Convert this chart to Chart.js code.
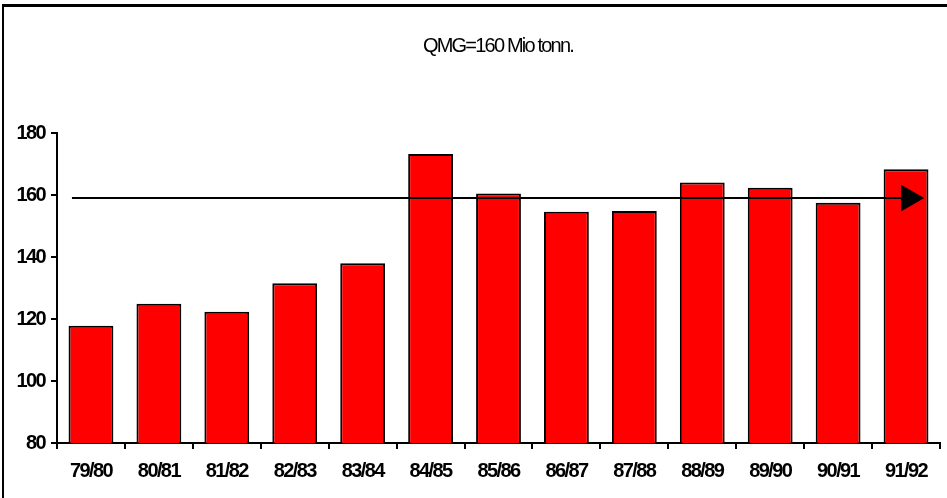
<!DOCTYPE html>
<html>
<head>
<meta charset="utf-8">
<script src="https://cdn.jsdelivr.net/npm/chart.js@4/dist/chart.umd.min.js"></script>
<style>
    html, body { margin: 0; padding: 0; background: #fff; }
    #wrap { width: 947px; height: 498px; position: relative; }
</style>
</head>
<body>
<div id="wrap"><canvas id="qmgChart" width="947" height="498"></canvas></div>
<script>
// Werte (Mio t)
const seasons = ["79/80", "80/81", "81/82", "82/83", "83/84", "84/85", "85/86",
    "86/87", "87/88", "88/89", "89/90", "90/91", "91/92"];
const production = [117.8, 124.9, 122.3, 131.5, 138.0, 173.2, 160.5,
    154.6, 154.8, 164.0, 162.3, 157.5, 168.3];

// QMG-Linie mit Pfeil (x in Kategorie-Einheiten)
const qmgX = [0.22, 12.54];
const qmgY = [159, 159];

const yTicks = { min: 80, max: 180, step: 20 };

const titleText = "QMG=160 Mio tonn.";
const fontFamily = "Arial, 'Liberation Sans', sans-serif";

// schmale Schrift nachahmen: negativer Zeichenabstand
const narrowPlugin = {
    id: "narrow",
    beforeLayout(chart) { chart.ctx.letterSpacing = "-1.6px"; },
    beforeDraw(chart) { chart.ctx.letterSpacing = "-1.6px"; }
};

// Rahmen links/oben und Titel
const framePlugin = {
    id: "frame",
    afterDraw(chart) {
        const ctx = chart.ctx;
        ctx.save();
        ctx.strokeStyle = "#000";
        ctx.lineWidth = 2;
        ctx.beginPath();
        ctx.moveTo(3, 5);
        ctx.lineTo(3, 498);
        ctx.stroke();
        ctx.lineWidth = 3;
        ctx.beginPath();
        ctx.moveTo(2, 5.5);
        ctx.lineTo(947, 5.5);
        ctx.stroke();

        ctx.letterSpacing = "-1.8px";
        ctx.fillStyle = "#000";
        ctx.font = "20px " + fontFamily;
        ctx.textAlign = "center";
        ctx.textBaseline = "middle";
        ctx.fillText(titleText, 498, 46);
        ctx.restore();
    }
};

const ctx = document.getElementById("qmgChart").getContext("2d");

new Chart(ctx, {
    type: "bar",
    data: {
        labels: seasons,
        datasets: [{
            type: "line",
            xAxisID: "x2",
            data: qmgX.map((x, i) => ({ x: x, y: qmgY[i] })),
            borderColor: "#000",
            borderWidth: 2,
            backgroundColor: "#000",
            pointStyle: "triangle",
            rotation: 90,
            pointRadius: [0, 15.5],
            pointBorderWidth: 0,
            order: 0
        }, {
            type: "bar",
            xAxisID: "x",
            data: production,
            backgroundColor: "#ff0000",
            borderColor: "#000",
            borderWidth: 2,
            grouped: false,
            categoryPercentage: 1,
            barPercentage: 0.66,
            order: 1
        }]
    },
    options: {
        responsive: false,
        animation: false,
        layout: {
            autoPadding: false,
            padding: { left: 0, right: 7, top: 133, bottom: 0 }
        },
        scales: {
            x: {
                type: "category",
                offset: true,
                border: { color: "#000", width: 2 },
                grid: {
                    display: true,
                    drawOnChartArea: false,
                    color: "#000",
                    lineWidth: 2,
                    tickLength: 6
                },
                ticks: {
                    color: "#000",
                    padding: 10,
                    maxRotation: 0,
                    font: { family: fontFamily, size: 20, weight: "bold" }
                },
                afterFit(scale) {
                    scale.height = 55;
                    scale.paddingLeft = 0;
                    scale.paddingRight = 0;
                }
            },
            x2: {
                type: "linear",
                position: "bottom",
                offset: false,
                grid: { offset: false },
                min: 0,
                max: seasons.length,
                display: false
            },
            y: {
                min: yTicks.min,
                max: yTicks.max,
                border: { color: "#000", width: 2 },
                grid: {
                    display: true,
                    drawOnChartArea: false,
                    color: "#000",
                    lineWidth: 2,
                    tickLength: 6
                },
                ticks: {
                    stepSize: yTicks.step,
                    color: "#000",
                    padding: 6,
                    font: { family: fontFamily, size: 20, weight: "bold" }
                },
                afterFit(scale) { scale.width = 57; }
            }
        },
        plugins: {
            legend: { display: false },
            tooltip: { enabled: false },
            title: { display: false }
        }
    },
    plugins: [narrowPlugin, framePlugin]
});
</script>
</body>
</html>
